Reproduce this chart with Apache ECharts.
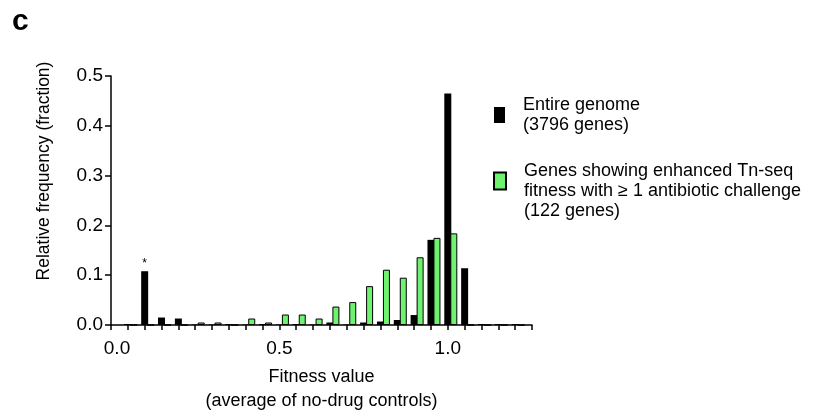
<!DOCTYPE html>
<html>
<head>
<meta charset="utf-8">
<script src="https://cdn.jsdelivr.net/npm/echarts@6/dist/echarts.min.js"></script>
<style>
html,body{margin:0;padding:0;background:#fff;}
#chart{width:821px;height:418px;}
</style>
</head>
<body>
<div id="chart"></div>
<script>
// Bin centres (fitness value)
const bins = [0.05, 0.10, 0.15, 0.20, 0.25, 0.30, 0.35, 0.40, 0.45, 0.50, 0.55, 0.60,
              0.65, 0.70, 0.75, 0.80, 0.85, 0.90, 0.95, 1.00, 1.05, 1.10, 1.15, 1.20];
// Entire genome (3796 genes)
const genomeFreq = [0.002, 0.108, 0.015, 0.013, 0.001, 0.001, 0.002, 0.001, 0.002, 0.001, 0.002, 0.001,
                    0.005, 0.001, 0.005, 0.007, 0.010, 0.020, 0.171, 0.465, 0.114, 0.002, 0.002, 0.002];
// Genes showing enhanced Tn-seq fitness (122 genes)
const enhancedFreq = [0, 0, 0, 0, 0.005, 0.005, 0, 0.013, 0.005, 0.021, 0.021, 0.013,
                      0.037, 0.046, 0.078, 0.111, 0.095, 0.136, 0.175, 0.184, 0, 0, 0, 0];
// Annotation marks on the genome bars
const genomeMarks = ['', '*', '', '', '', '', '', '', '', '', '', '',
                     '', '', '', '', '', '', '', '', '', '', '', ''];
// Tick labels
const xLabelValues = [0, 0.5, 1.0];
const xTickLabels = ['0.0', '0.5', '1.0'];
const yTickLabels = ['0.0', '0.1', '0.2', '0.3', '0.4', '0.5'];

const seriesNames = ['Entire genome\n(3796 genes)',
                     'Genes showing enhanced Tn-seq\nfitness with \u2265 1 antibiotic challenge\n(122 genes)'];

const FONT = "'Liberation Sans', Arial, sans-serif";

const genomeData = bins.map((x, i) => ({
  value: [x, genomeFreq[i]],
  label: genomeMarks[i] ? {show: true, formatter: genomeMarks[i]} : {show: false}
}));
const enhancedData = bins.map((x, i) => [x, enhancedFreq[i]]);

const chart = echarts.init(document.getElementById('chart'));
chart.setOption({
  animation: false,
  backgroundColor: '#fff',
  title: {
    text: 'c', left: 12, top: 7, padding: 0,
    textStyle: {fontFamily: FONT, fontSize: 30, fontWeight: 900, color: '#000'}
  },
  grid: {left: 111, right: 289, top: 76, bottom: 90, containLabel: false},
  legend: [
    {
      data: [seriesNames[0]], orient: 'vertical', left: 494, top: 95, padding: 0,
      itemWidth: 11, itemHeight: 16, icon: 'rect', selectedMode: false,
      textStyle: {fontFamily: FONT, fontSize: 18, lineHeight: 20, color: '#000', padding: [0, 0, 0, 13]}
    },
    {
      data: [seriesNames[1]], orient: 'vertical', left: 493, top: 141, padding: 0,
      itemWidth: 12, itemHeight: 17, icon: 'rect', selectedMode: false,
      formatter: function (name) { return '\n' + name; },
      textStyle: {fontFamily: FONT, fontSize: 18, lineHeight: 20, color: '#000', padding: [0, 0, 0, 13]}
    }
  ],
  xAxis: {
    type: 'value', min: 0, max: 1.25, interval: 0.05,
    name: 'Fitness value\n(average of no-drug controls)',
    nameLocation: 'middle', nameGap: 40,
    nameTextStyle: {fontFamily: FONT, fontSize: 18, lineHeight: 24, color: '#000'},
    axisLine: {show: true, onZero: false, lineStyle: {color: '#000', width: 1.5}},
    axisTick: {show: true, inside: false, length: 5, lineStyle: {color: '#000', width: 1.5}},
    axisLabel: {
      show: true, margin: 14, fontFamily: FONT, fontSize: 19, color: '#000',
      rich: {s: {fontFamily: FONT, fontSize: 19, color: '#000', padding: [0, 0, 0, 12]}},
      formatter: function (v) {
        const i = xLabelValues.findIndex(t => Math.abs(t - v) < 1e-6);
        if (i < 0) return '';
        return i === 0 ? '{s|' + xTickLabels[i] + '}' : xTickLabels[i];
      }
    },
    splitLine: {show: false}
  },
  yAxis: {
    type: 'value', min: 0, max: 0.5, interval: 0.1,
    name: 'Relative frequency (fraction)',
    nameLocation: 'middle', nameGap: 58, nameRotate: 90,
    nameTextStyle: {fontFamily: FONT, fontSize: 17.5, color: '#000', padding: [0, 0, 0, 59]},
    axisLine: {show: true, lineStyle: {color: '#000', width: 1.5}},
    axisTick: {show: true, inside: false, length: 6, lineStyle: {color: '#000', width: 1.5}},
    axisLabel: {
      margin: 8, fontFamily: FONT, fontSize: 19, color: '#000',
      formatter: function (v) { return yTickLabels[Math.round(v * 10)]; }
    },
    splitLine: {show: false}
  },
  series: [
    {
      // spacer column so that genome bars sit centred on their bin ticks
      type: 'bar', name: 'spacer', data: [], barWidth: 7, barGap: '-14.2857%',
      silent: true, legendHoverLink: false
    },
    {
      type: 'bar', name: seriesNames[0], data: genomeData, barWidth: 7, barGap: '-14.2857%',
      itemStyle: {color: '#000', borderColor: '#000', borderWidth: 0},
      label: {position: 'top', distance: 2, fontFamily: FONT, fontSize: 12, color: '#000'}
    },
    {
      type: 'bar', name: seriesNames[1], data: enhancedData, barWidth: 7, barGap: '-14.2857%',
      itemStyle: {color: '#6ff26f', borderColor: '#000', borderWidth: 1}
    }
  ]
});
</script>
</body>
</html>
